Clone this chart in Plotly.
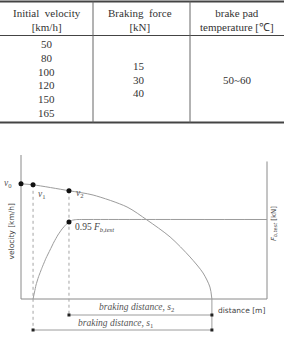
import plotly.graph_objects as go

W, H = 284, 338

# ---------------- table data ----------------
table_headers = ["Initial  velocity<br>[km/h]", "Braking  force<br>[kN]", "brake pad<br>temperature [℃]"]
init_velocity = [50, 80, 100, 120, 150, 165]
braking_force = [15, 30, 40]
pad_temperature = ["50~60"]

# ---------------- diagram data (distance 0..100, velocity 0..100, force % of F_b,test) ----------------
vel_dist = [0, 4.9, 19.5, 29.3, 43.1, 51.2, 60.6, 68.7, 74.0, 76.8, 77.6]
vel_val = [80, 79.3, 75.2, 72.2, 63.9, 54.9, 43.1, 29.2, 18.1, 8.3, 0]
force_dist = [4.9, 5.5, 6.1, 7.1, 8.5, 10.2, 11.8, 13.4, 15.0, 16.7, 18.3, 19.5, 20.7, 22.4, 24.0, 100]
force_val = [0, 8.8, 17.6, 27.7, 39.0, 51.6, 61.6, 71.7, 80.5, 88.1, 93.7, 96.9, 99.0, 99.9, 100, 100]
point_names = ["v0", "v1", "v2"]
point_dist = [0, 4.9, 19.5]
point_vel = [80, 79.3, 75.2]
force_point = [19.5, 96.9]          # (distance, force level) of the 0.95 F_b,test point
stop_dist = 77.6
axis_top_vel = 100
axis_top_force = 173
x_axis_end = 100

# pixel scales of the diagram
X0PX, XS = 21, 2.46      # px of distance 0, px per unit
Y0PX, YS = 299, 1.44     # px of velocity 0, px per unit
FS = 0.795               # px per force unit
TOPPX = 130

def P(x, y):
    return x / W, 1 - y / H

def vpx(py):  # pixel y -> velocity units
    return (Y0PX - py) / YS

fig = go.Figure()

GRAY = "#9c9c9c"
AX = "#8a8a8a"

# axes lines
fig.add_trace(go.Scatter(x=[0, 0, x_axis_end], y=[axis_top_vel, 0, 0], mode="lines",
                         line=dict(color=AX, width=1), hoverinfo="skip"))
fig.add_trace(go.Scatter(x=[x_axis_end, x_axis_end], y=[0, axis_top_force], yaxis="y2", mode="lines",
                         line=dict(color=AX, width=1), hoverinfo="skip"))

# velocity curve
fig.add_trace(go.Scatter(x=vel_dist, y=vel_val, mode="lines", line=dict(color=GRAY, width=1, shape="spline", smoothing=0.8),
                         hoverinfo="skip"))
# force curve
fig.add_trace(go.Scatter(x=force_dist, y=force_val, yaxis="y2", mode="lines",
                         line=dict(color=GRAY, width=1, shape="spline", smoothing=0.3), hoverinfo="skip"))

# dotted verticals and arrows
s2_y = vpx(315)
s1_y = vpx(330)
fig.add_trace(go.Scatter(x=[point_dist[1], point_dist[1]], y=[point_vel[1], s1_y], mode="lines",
                         line=dict(color="#a5a5a5", width=1, dash="dot"), hoverinfo="skip"))
fig.add_trace(go.Scatter(x=[point_dist[2], point_dist[2]], y=[point_vel[2], s2_y], mode="lines",
                         line=dict(color="#a5a5a5", width=1, dash="dot"), hoverinfo="skip"))
fig.add_trace(go.Scatter(x=[stop_dist, stop_dist], y=[0, s1_y], mode="lines",
                         line=dict(color=GRAY, width=1), hoverinfo="skip"))
for xs, yv in [(point_dist[2], s2_y), (point_dist[1], s1_y)]:
    fig.add_trace(go.Scatter(x=[xs, stop_dist], y=[yv, yv], mode="lines+markers",
                             line=dict(color=GRAY, width=1),
                             marker=dict(symbol="square", size=3, color="#222"), hoverinfo="skip"))

# key points
fig.add_trace(go.Scatter(x=point_dist, y=point_vel, mode="markers",
                         marker=dict(size=5, color="#111"), hoverinfo="skip"))
fig.add_trace(go.Scatter(x=[force_point[0]], y=[force_point[1]], yaxis="y2", mode="markers",
                         marker=dict(size=5, color="#111"), hoverinfo="skip"))

ann = []
serif = "Times New Roman, Liberation Serif, serif"
# table text
col_x = [46.5, 140, 237]
tfont = dict(family=serif, size=11, color="#333")
for cx, htxt in zip(col_x, table_headers):
    xx, yy = P(cx, 19.5)
    ann.append(dict(x=xx, y=yy, xref="paper", yref="paper", text=htxt, showarrow=False,
                    font=tfont, xanchor="center", yanchor="middle"))
for i, v in enumerate(init_velocity):
    xx, yy = P(col_x[0], 44 + i * 13.8)
    ann.append(dict(x=xx, y=yy, xref="paper", yref="paper", text=str(v), showarrow=False,
                    font=tfont, xanchor="center", yanchor="middle"))
for i, v in enumerate(braking_force):
    xx, yy = P(138.5, 66 + i * 13.6)
    ann.append(dict(x=xx, y=yy, xref="paper", yref="paper", text=str(v), showarrow=False,
                    font=tfont, xanchor="center", yanchor="middle"))
xx, yy = P(col_x[2], 80)
ann.append(dict(x=xx, y=yy, xref="paper", yref="paper", text=pad_temperature[0], showarrow=False,
                font=tfont, xanchor="center", yanchor="middle"))

# diagram labels
lab_font = dict(family=serif, size=9.5, color="#555")
offs = [(-13, 0), (9, 10), (11, 3)]
for nm, d, v, (ox, oy) in zip(point_names, point_dist, point_vel, offs):
    ann.append(dict(x=d, y=v, xref="x", yref="y", text=f"<i>v</i><sub>{nm[1]}</sub>", showarrow=False,
                    xshift=ox, yshift=-oy, font=lab_font, xanchor="center", yanchor="middle"))
ann.append(dict(x=force_point[0], y=force_point[1], xref="x", yref="y2",
                text="0.95 <i>F</i><sub><i>b,test</i></sub>", showarrow=False, xshift=4, yshift=-6,
                font=dict(family=serif, size=9.5, color="#444"), xanchor="left", yanchor="middle"))
sans = dict(family="DejaVu Sans", size=7.5, color="#444")
xx, yy = P(10.5, 231)
ann.append(dict(x=xx, y=yy, xref="paper", yref="paper", text="velocity [km/h]", textangle=-90,
                showarrow=False, font=sans, xanchor="center", yanchor="middle"))
xx, yy = P(274, 224)
ann.append(dict(x=xx, y=yy, xref="paper", yref="paper", text="<i>F</i><sub><i>b,test</i></sub> [kN]",
                textangle=-90, showarrow=False, font=dict(family="DejaVu Sans", size=7, color="#444"),
                xanchor="center", yanchor="middle"))
xx, yy = P(241.5, 310)
ann.append(dict(x=xx, y=yy, xref="paper", yref="paper", text="distance [m]",
                showarrow=False, font=sans, xanchor="center", yanchor="middle"))
bd_font = dict(family=serif, size=9.5, color="#555")
xx, yy = P(136, 307)
ann.append(dict(x=xx, y=yy, xref="paper", yref="paper", text="<i>braking distance, s</i><sub>2</sub>",
                showarrow=False, font=bd_font, xanchor="center", yanchor="middle"))
xx, yy = P(115, 323.5)
ann.append(dict(x=xx, y=yy, xref="paper", yref="paper", text="<i>braking distance, s</i><sub>1</sub>",
                showarrow=False, font=bd_font, xanchor="center", yanchor="middle"))

# table lines
shapes = []
def hline(y, w):
    x0, yy = P(0, y)
    x1, _ = P(W, y)
    shapes.append(dict(type="line", xref="paper", yref="paper", x0=x0, x1=x1, y0=yy, y1=yy,
                       line=dict(color="#444", width=w)))
hline(1.5, 2)
hline(35.5, 1)
hline(122.5, 2)
for cx in [93, 190]:
    xx, y0 = P(cx, 1.5)
    _, y1 = P(cx, 122.5)
    shapes.append(dict(type="line", xref="paper", yref="paper", x0=xx, x1=xx, y0=y0, y1=y1,
                       line=dict(color="#666", width=1)))

fig.update_layout(
    width=W, height=H, margin=dict(l=0, r=0, t=0, b=0),
    paper_bgcolor="white", plot_bgcolor="white", showlegend=False,
    xaxis=dict(domain=[0, 1], range=[-X0PX / XS, (W - X0PX) / XS], visible=False, fixedrange=True),
    yaxis=dict(domain=[0, (H - TOPPX) / H], range=[-(H - Y0PX) / YS, (Y0PX - TOPPX) / YS],
               visible=False, fixedrange=True),
    yaxis2=dict(overlaying="y", range=[-(H - Y0PX) / FS, (Y0PX - TOPPX) / FS], visible=False, fixedrange=True),
    annotations=ann, shapes=shapes,
)
fig.update_traces(cliponaxis=False)

fig.write_html("out.html")
